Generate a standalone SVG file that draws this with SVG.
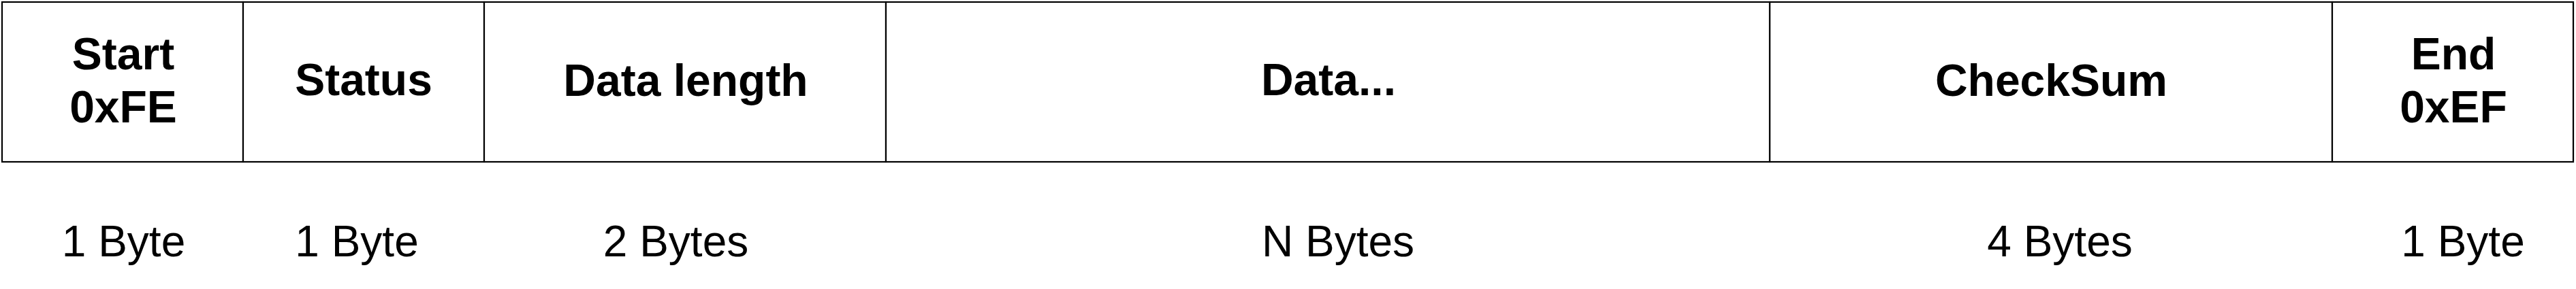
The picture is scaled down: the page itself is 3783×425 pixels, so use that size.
<svg xmlns="http://www.w3.org/2000/svg" width="3783" height="425" viewBox="0 0 3783 425">
<style>
.cell{fill:#fff;stroke:#000;stroke-width:2.2}
.t{font-family:"Liberation Sans",Arial,sans-serif;font-weight:bold;font-size:66px;text-anchor:middle;fill:#000}
.s{font-family:"Liberation Sans",Arial,sans-serif;font-size:64px;text-anchor:middle;fill:#000}
</style>
<rect width="3783" height="425" fill="#fff"/>
<g id="start">
<rect class="cell" x="3" y="3" width="354" height="235"/>
<text class="t" x="181" y="102">Start</text>
<text class="t" x="181" y="180">0xFE</text>
<text class="s" x="181.5" y="377">1 Byte</text>
</g>
<g id="status">
<rect class="cell" x="357" y="3" width="354" height="235"/>
<text class="t" x="534" y="140">Status</text>
<text class="s" x="524" y="377">1 Byte</text>
</g>
<g id="datalength">
<rect class="cell" x="711" y="3" width="590" height="235"/>
<text class="t" x="1007" y="141">Data length</text>
<text class="s" x="992.5" y="377">2 Bytes</text>
</g>
<g id="data">
<rect class="cell" x="1301" y="3" width="1298" height="235"/>
<text class="t" x="1951" y="140">Data...</text>
<text class="s" x="1965" y="377">N Bytes</text>
</g>
<g id="checksum">
<rect class="cell" x="2599" y="3" width="826" height="235"/>
<text class="t" x="3012.5" y="141">CheckSum</text>
<text class="s" x="3025" y="377">4 Bytes</text>
</g>
<g id="end">
<rect class="cell" x="3425" y="3" width="354" height="235"/>
<text class="t" x="3603" y="102">End</text>
<text class="t" x="3603" y="180">0xEF</text>
<text class="s" x="3617" y="377">1 Byte</text>
</g>
<g id="connectors"></g>
</svg>
